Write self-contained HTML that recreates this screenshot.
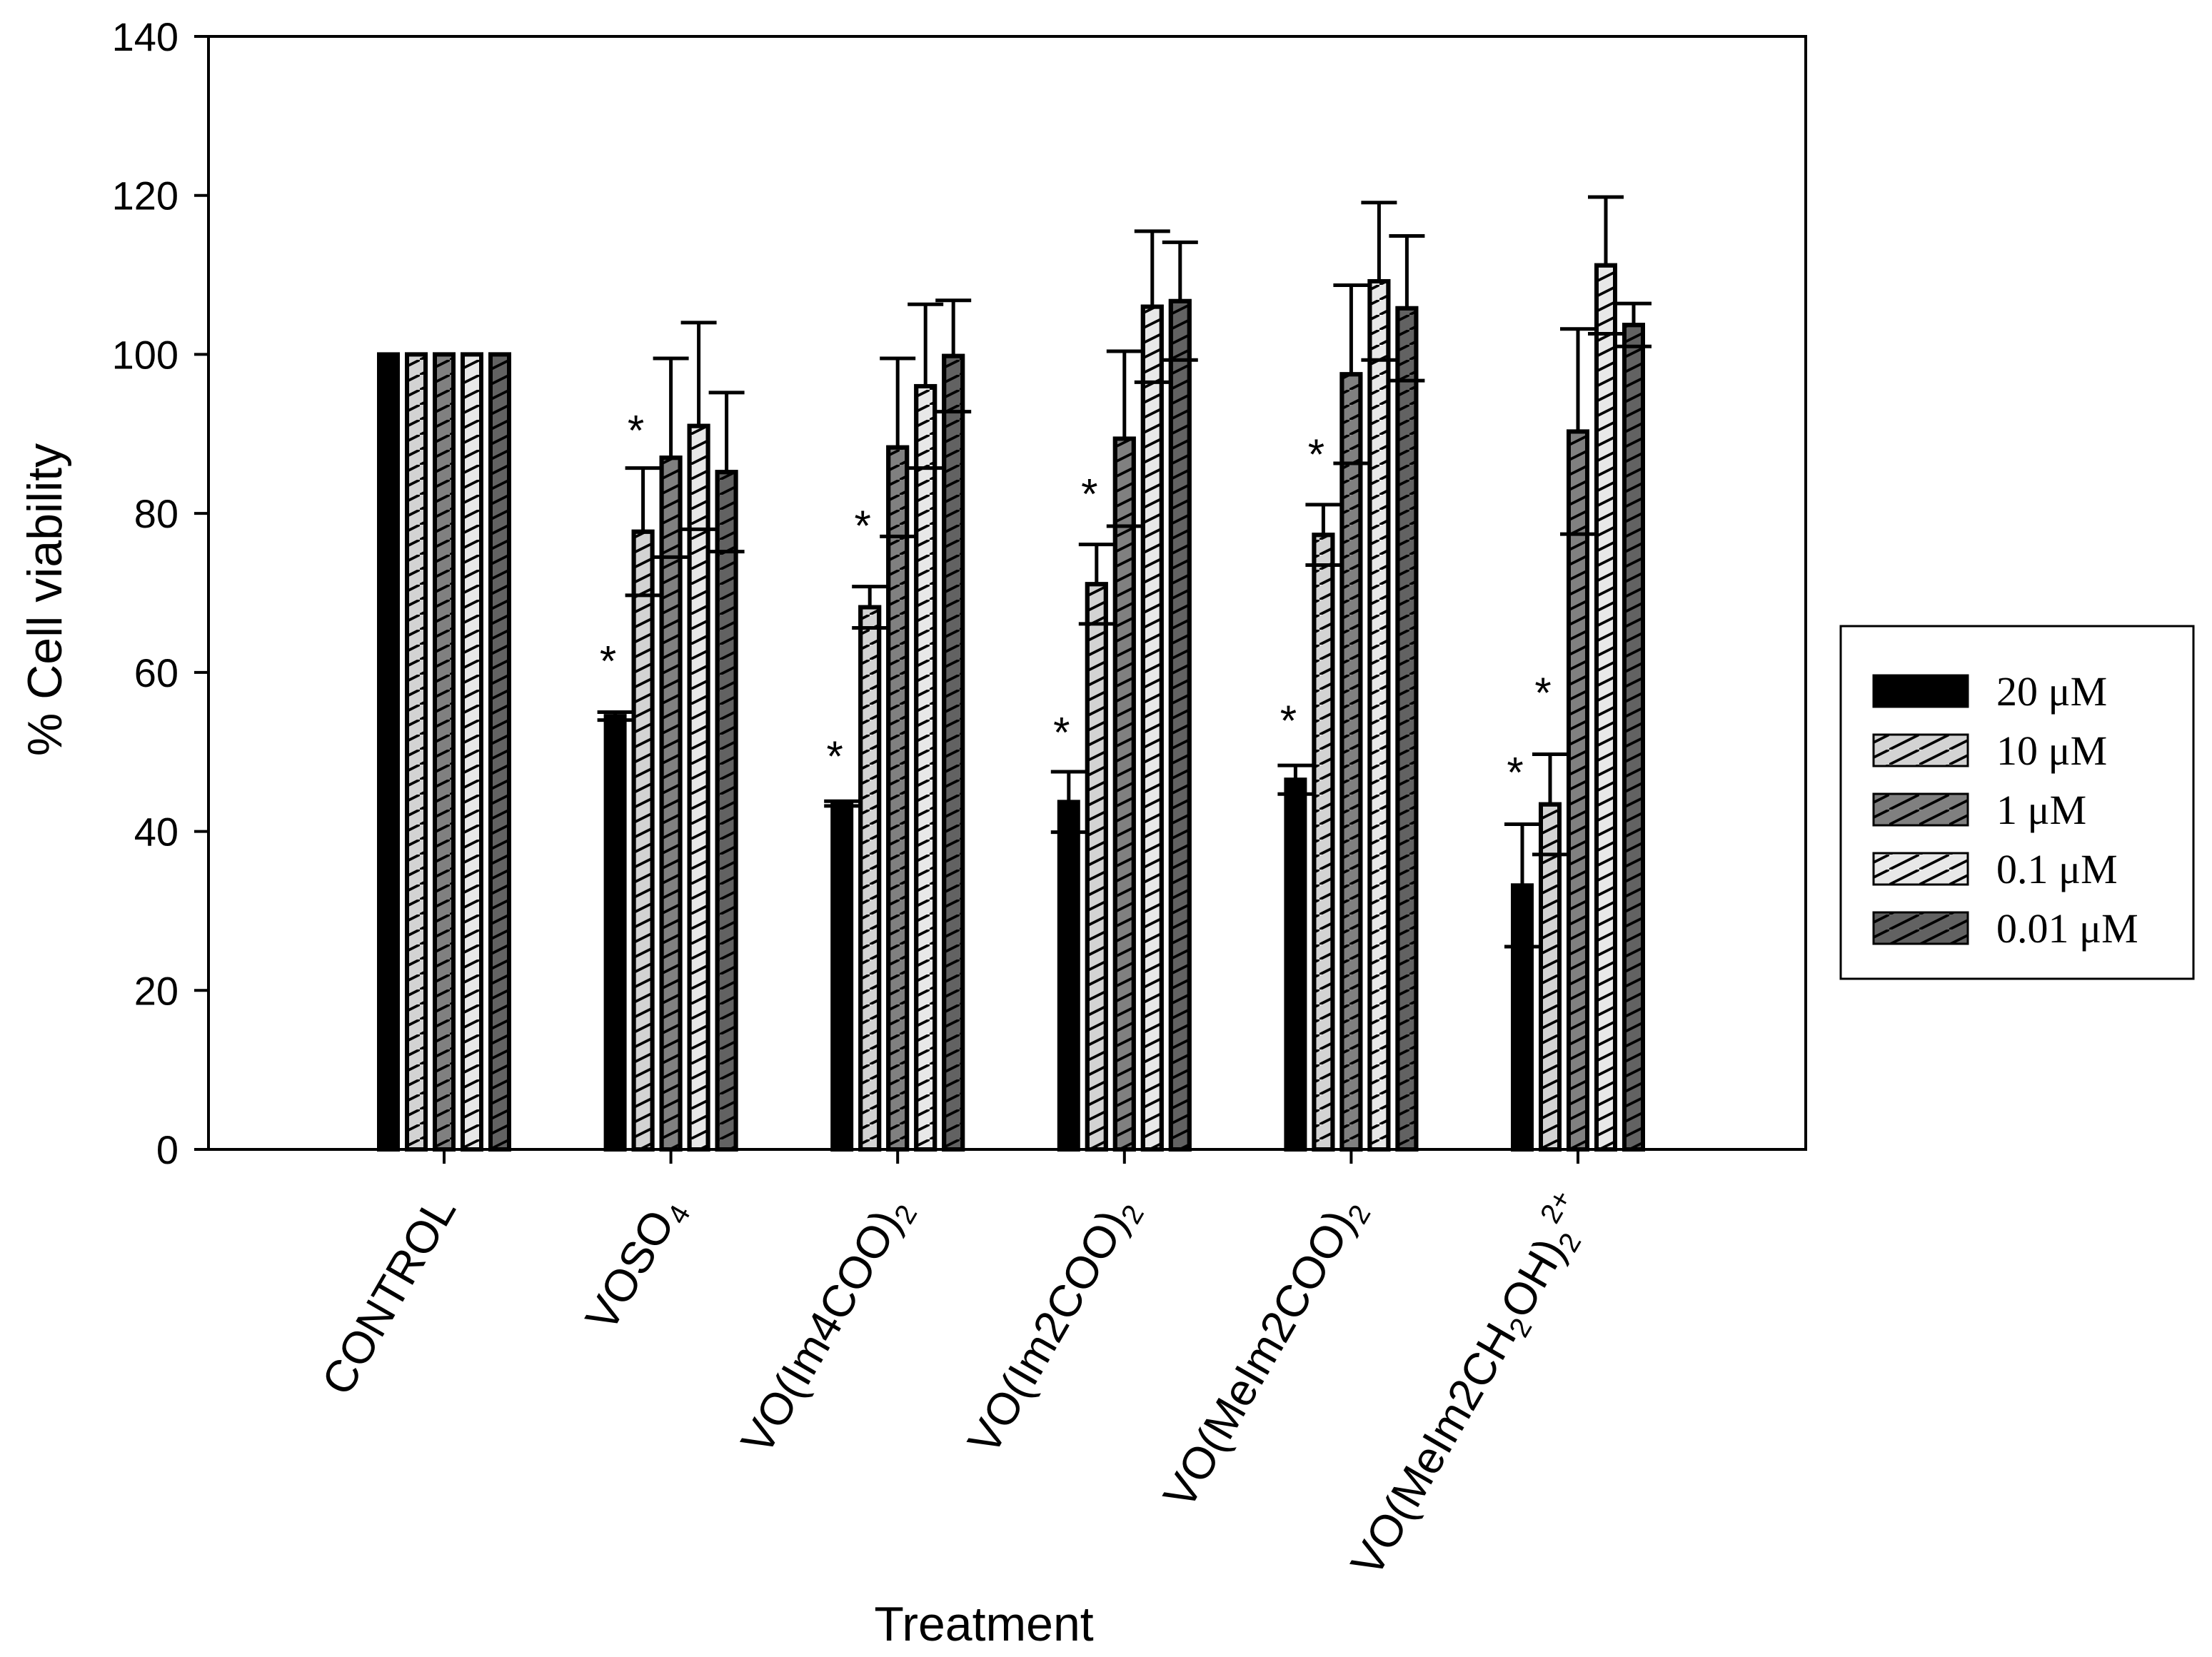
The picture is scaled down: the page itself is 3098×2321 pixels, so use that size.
<!DOCTYPE html>
<html><head><meta charset="utf-8"><style>
body{margin:0;background:#fff}
svg{display:block;font-family:"Liberation Sans",sans-serif}
</style></head><body>
<svg id="chart" width="3098" height="2321" viewBox="0 0 3098 2321" xmlns="http://www.w3.org/2000/svg">
<defs>
<pattern id="hatch" patternUnits="userSpaceOnUse" width="42" height="21">
<line x1="-21" y1="31.5" x2="21" y2="10.5" stroke="#000" stroke-width="3.5"/>
<line x1="0" y1="21" x2="42" y2="0" stroke="#000" stroke-width="3.5"/>
<line x1="21" y1="10.5" x2="63" y2="-10.5" stroke="#000" stroke-width="3.5"/>
</pattern>
</defs>
<g id="bars"></g>
<g id="axes"></g>
</svg>
<script>
const categories = ["CONTROL","VOSO4","VO(Im4COO)2","VO(Im2COO)2","VO(MeIm2COO)2","VO(MeIm2CH2OH)2 2+"];
const seriesNames = ["20 μM","10 μM","1 μM","0.1 μM","0.01 μM"];
const s20 = [100, 54.5, 43.5, 43.7, 46.5, 33.2];
const s10 = [100, 77.7, 68.2, 71.1, 77.3, 43.4];
const s1 = [100, 87, 88.3, 89.4, 97.5, 90.3];
const s01 = [100, 91, 96, 106, 109.2, 111.2];
const s001 = [100, 85.2, 99.8, 106.7, 105.8, 103.7];
const e20 = [0, 0.5, 0.3, 3.8, 1.8, 7.7];
const e10 = [0, 8, 2.6, 5, 3.8, 6.3];
const e1 = [0, 12.5, 11.2, 11, 11.2, 12.9];
const e01 = [0, 13, 10.3, 9.5, 9.9, 8.6];
const e001 = [0, 10, 7, 7.4, 9.1, 2.7];
const star20 = [null, 63, 51, 54, 55.5, 49];
const star10 = [null, 92, 80, 84, 89, 59];
const yTicks = [0,20,40,60,80,100,120,140];

const series=[s20,s10,s1,s01,s001];
const errs=[e20,e10,e1,e01,e001];
const fills=["#000","#d3d3d3","#808080","#e8e8e8","#626262"];
const NS="http://www.w3.org/2000/svg";
const L=292,R=2529,T=51,B=1610;
const y=v=>B-v*(B-T)/140;
const gx=i=>622+i*317.6;
const bx=(i,k)=>gx(i)+(k-2)*39;
const BW=26;
function mk(tag,attrs,parent){const e=document.createElementNS(NS,tag);for(const a in attrs)e.setAttribute(a,attrs[a]);parent.appendChild(e);return e;}
const gb=document.getElementById('bars'), ga=document.getElementById('axes');

series.forEach((arr,k)=>{
  arr.forEach((v,i)=>{
    const cx=bx(i,k);
    const r=mk('rect',{x:cx-BW/2,y:y(v),width:BW,height:B-y(v),fill:fills[k],stroke:'#000','stroke-width':6},gb);
    
    
    if(k>0){const h=mk('rect',{x:cx-BW/2,y:y(v),width:BW,height:B-y(v),fill:'url(#hatch)',stroke:'#000','stroke-width':6},gb);
      
      }
    const e=errs[k][i];
    if(e>0){
      const eg=mk('g',{stroke:'#000','stroke-width':5},gb);
      
      
      mk('line',{x1:cx,x2:cx,y1:y(v),y2:y(v+e)},eg);
      mk('line',{x1:cx-25,x2:cx+25,y1:y(v+e),y2:y(v+e)},eg);
      mk('line',{x1:cx-25,x2:cx+25,y1:y(v-e),y2:y(v-e)},eg);
    }
  });
});
[[star20,0],[star10,1]].forEach(([arr,k])=>{
  arr.forEach((v,i)=>{ if(v==null)return;
    const t=mk('text',{x:bx(i,k)-10,y:y(v)+38,'font-size':60,'text-anchor':'middle'},gb);
    t.textContent='*';
    
    
  });
});
const f=mk('rect',{x:L,y:T,width:R-L,height:B-T,fill:'none',stroke:'#000','stroke-width':4},ga);


yTicks.forEach(v=>{
  mk('line',{x1:L-20,x2:L,y1:y(v),y2:y(v),stroke:'#000','stroke-width':4},ga);
  const t=mk('text',{x:L-42,y:y(v)+20,'font-size':56,'text-anchor':'end'},ga);
  t.textContent=v;
  
  
});
categories.forEach((c,i)=>{
  mk('line',{x1:gx(i),x2:gx(i),y1:B,y2:B+20,stroke:'#000','stroke-width':4},ga);
});
const labels=[
 'CONTROL',
 'VOSO<tspan font-size="40" dy="12">4</tspan>',
 'VO(Im4COO)<tspan font-size="40" dy="12">2</tspan>',
 'VO(Im2COO)<tspan font-size="40" dy="12">2</tspan>',
 'VO(MeIm2COO)<tspan font-size="40" dy="12">2</tspan>',
 'VO(MeIm2CH<tspan font-size="40" dy="12">2</tspan><tspan dy="-12">OH)</tspan><tspan font-size="40" dy="12">2</tspan><tspan font-size="40" dy="-42">2+</tspan>'
];
labels.forEach((h,i)=>{
  const t=mk('text',{'font-size':63,'text-anchor':'end',transform:`translate(${gx(i)+18},${B+82}) rotate(-60)`},ga);
  t.innerHTML=h;
  
  
});
const yt=mk('text',{'font-size':68,'text-anchor':'middle',transform:`translate(86,840) rotate(-90)`},ga);
yt.textContent='% Cell viability';


const xt=mk('text',{x:1378,y:2298,'font-size':68,'text-anchor':'middle'},ga);
xt.textContent='Treatment';


const lg=mk('g',{},ga);


mk('rect',{x:2578,y:877,width:494,height:494,fill:'#fff',stroke:'#000','stroke-width':3},lg);
seriesNames.forEach((n,k)=>{
  const cy=968+k*83;
  const sw=mk('rect',{x:2624,y:cy-22,width:132,height:44,fill:fills[k],stroke:'#000','stroke-width':3},lg);
  
  
  if(k>0)mk('rect',{x:2624,y:cy-22,width:132,height:44,fill:'url(#hatch)',stroke:'#000','stroke-width':3},lg);
  const t=mk('text',{x:2796,y:cy+20,'font-size':58,'font-family':'"Liberation Serif",serif'},lg);
  t.textContent=n;
  
  
});
</script>
</body></html>
